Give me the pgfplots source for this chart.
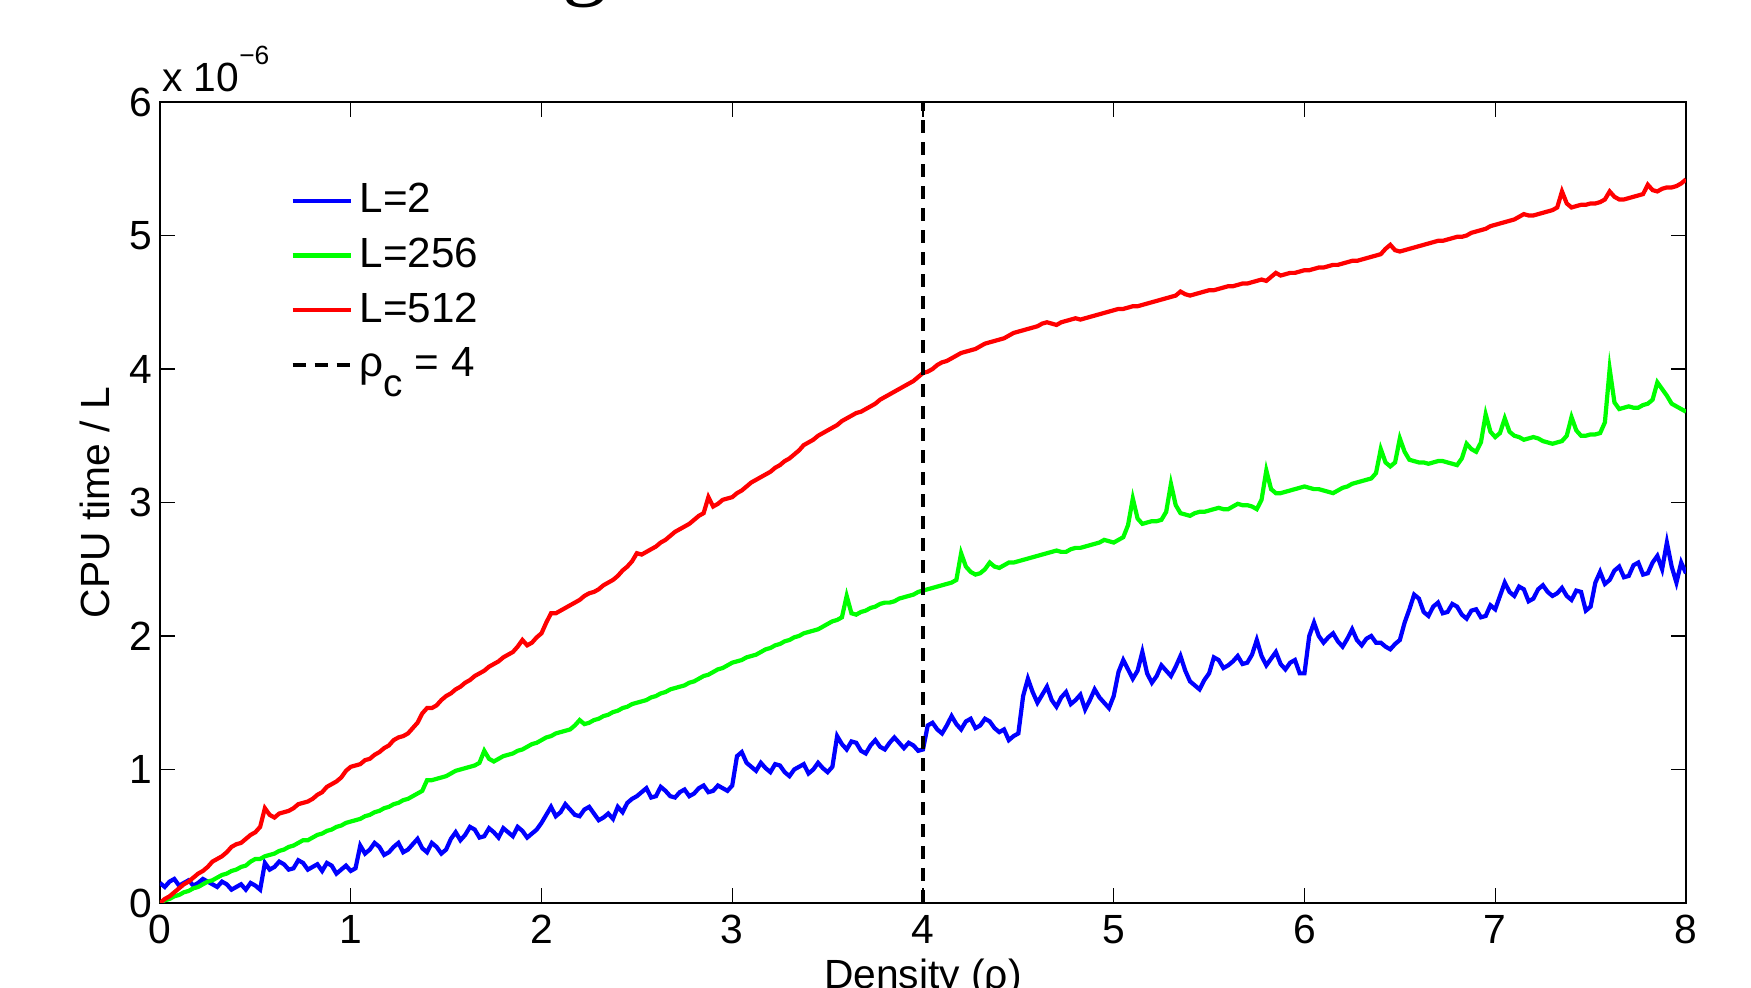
\documentclass[border=0pt]{standalone}
\usepackage{fontspec}
\setmainfont{Liberation Sans}
\newfontfamily\titleserif{Liberation Serif}
\usepackage{pgfplots}
\usepackage{pgfplotstable}
\pgfplotsset{compat=1.18}

% CPU time / L in units of 1e-6; b: L=2, g: L=256, r: L=512
\pgfplotstableread{
x     b    g    r
0.000 0.15 0.00 0.00
0.025 0.12 0.02 0.03
0.050 0.16 0.03 0.05
0.075 0.18 0.05 0.08
0.100 0.13 0.06 0.11
0.125 0.15 0.08 0.14
0.150 0.17 0.09 0.16
0.175 0.13 0.11 0.19
0.200 0.15 0.12 0.22
0.225 0.18 0.14 0.24
0.250 0.16 0.16 0.27
0.275 0.14 0.17 0.31
0.300 0.12 0.19 0.33
0.325 0.16 0.21 0.35
0.350 0.14 0.22 0.38
0.375 0.10 0.24 0.42
0.400 0.12 0.25 0.44
0.425 0.14 0.27 0.45
0.450 0.10 0.28 0.48
0.475 0.15 0.31 0.51
0.500 0.13 0.33 0.53
0.525 0.10 0.33 0.57
0.550 0.30 0.35 0.71
0.575 0.25 0.36 0.66
0.600 0.27 0.37 0.64
0.625 0.31 0.39 0.67
0.650 0.29 0.40 0.68
0.675 0.25 0.42 0.69
0.700 0.26 0.43 0.71
0.725 0.32 0.45 0.74
0.750 0.30 0.47 0.75
0.775 0.25 0.47 0.76
0.800 0.27 0.49 0.78
0.825 0.29 0.51 0.81
0.850 0.24 0.52 0.83
0.875 0.30 0.54 0.87
0.900 0.28 0.55 0.89
0.925 0.22 0.57 0.91
0.950 0.25 0.58 0.94
0.975 0.28 0.60 0.99
1.000 0.24 0.61 1.02
1.025 0.26 0.62 1.03
1.050 0.43 0.63 1.04
1.075 0.37 0.65 1.07
1.100 0.40 0.66 1.08
1.125 0.45 0.68 1.11
1.150 0.42 0.69 1.13
1.175 0.36 0.71 1.16
1.200 0.38 0.72 1.18
1.225 0.42 0.74 1.22
1.250 0.45 0.75 1.24
1.275 0.38 0.77 1.25
1.300 0.40 0.78 1.27
1.325 0.44 0.80 1.31
1.350 0.48 0.82 1.35
1.375 0.41 0.84 1.42
1.400 0.38 0.92 1.46
1.425 0.45 0.92 1.46
1.450 0.42 0.93 1.48
1.475 0.37 0.94 1.52
1.500 0.40 0.95 1.55
1.525 0.48 0.97 1.57
1.550 0.53 0.99 1.60
1.575 0.47 1.00 1.62
1.600 0.51 1.01 1.65
1.625 0.57 1.02 1.67
1.650 0.55 1.03 1.70
1.675 0.49 1.05 1.72
1.700 0.50 1.14 1.74
1.725 0.56 1.08 1.77
1.750 0.53 1.06 1.79
1.775 0.49 1.08 1.81
1.800 0.56 1.10 1.84
1.825 0.53 1.11 1.86
1.850 0.50 1.12 1.88
1.875 0.57 1.14 1.92
1.900 0.54 1.15 1.97
1.925 0.49 1.17 1.93
1.950 0.52 1.19 1.95
1.975 0.55 1.20 1.99
2.000 0.60 1.22 2.02
2.025 0.66 1.24 2.10
2.050 0.72 1.25 2.17
2.075 0.65 1.27 2.17
2.100 0.68 1.28 2.19
2.125 0.74 1.29 2.21
2.150 0.70 1.30 2.23
2.175 0.66 1.33 2.25
2.200 0.65 1.37 2.27
2.225 0.70 1.34 2.30
2.250 0.72 1.35 2.32
2.275 0.67 1.37 2.33
2.300 0.62 1.38 2.35
2.325 0.64 1.40 2.38
2.350 0.67 1.41 2.40
2.375 0.63 1.43 2.42
2.400 0.72 1.44 2.45
2.425 0.68 1.46 2.49
2.450 0.75 1.47 2.52
2.475 0.78 1.49 2.56
2.500 0.80 1.50 2.62
2.525 0.83 1.51 2.61
2.550 0.86 1.52 2.63
2.575 0.79 1.54 2.65
2.600 0.80 1.55 2.67
2.625 0.87 1.57 2.70
2.650 0.84 1.58 2.72
2.675 0.80 1.60 2.75
2.700 0.79 1.61 2.78
2.725 0.83 1.62 2.80
2.750 0.85 1.63 2.82
2.775 0.80 1.65 2.84
2.800 0.82 1.66 2.87
2.825 0.86 1.68 2.90
2.850 0.88 1.70 2.92
2.875 0.83 1.71 3.04
2.900 0.84 1.73 2.97
2.925 0.88 1.75 2.99
2.950 0.86 1.76 3.02
2.975 0.84 1.78 3.03
3.000 0.88 1.80 3.04
3.025 1.10 1.81 3.07
3.050 1.13 1.82 3.09
3.075 1.05 1.84 3.12
3.100 1.02 1.85 3.15
3.125 0.99 1.86 3.17
3.150 1.05 1.88 3.19
3.175 1.01 1.90 3.21
3.200 0.98 1.91 3.23
3.225 1.04 1.93 3.26
3.250 1.03 1.94 3.28
3.275 0.98 1.96 3.31
3.300 0.95 1.97 3.33
3.325 1.00 1.99 3.36
3.350 1.02 2.00 3.39
3.375 1.04 2.02 3.43
3.400 0.97 2.03 3.45
3.425 1.00 2.04 3.47
3.450 1.05 2.05 3.50
3.475 1.01 2.07 3.52
3.500 0.98 2.09 3.54
3.525 1.02 2.11 3.56
3.550 1.25 2.12 3.58
3.575 1.19 2.14 3.61
3.600 1.15 2.30 3.63
3.625 1.21 2.17 3.65
3.650 1.20 2.16 3.67
3.675 1.14 2.18 3.68
3.700 1.12 2.19 3.70
3.725 1.18 2.21 3.72
3.750 1.22 2.22 3.74
3.775 1.17 2.24 3.77
3.800 1.15 2.25 3.79
3.825 1.20 2.25 3.81
3.850 1.24 2.26 3.83
3.875 1.20 2.28 3.85
3.900 1.16 2.29 3.87
3.925 1.20 2.30 3.89
3.950 1.18 2.31 3.91
3.975 1.14 2.33 3.94
4.000 1.15 2.34 3.97
4.025 1.33 2.35 3.98
4.050 1.35 2.36 4.00
4.075 1.30 2.37 4.03
4.100 1.27 2.38 4.05
4.125 1.33 2.39 4.06
4.150 1.40 2.40 4.08
4.175 1.34 2.42 4.10
4.200 1.30 2.62 4.12
4.225 1.36 2.52 4.13
4.250 1.38 2.48 4.14
4.275 1.31 2.46 4.15
4.300 1.33 2.47 4.17
4.325 1.38 2.50 4.19
4.350 1.36 2.55 4.20
4.375 1.31 2.52 4.21
4.400 1.28 2.51 4.22
4.425 1.30 2.53 4.23
4.450 1.22 2.55 4.25
4.475 1.25 2.55 4.27
4.500 1.27 2.56 4.28
4.525 1.55 2.57 4.29
4.550 1.68 2.58 4.30
4.575 1.58 2.59 4.31
4.600 1.50 2.60 4.32
4.625 1.56 2.61 4.34
4.650 1.62 2.62 4.35
4.675 1.52 2.63 4.34
4.700 1.47 2.64 4.33
4.725 1.54 2.63 4.35
4.750 1.58 2.63 4.36
4.775 1.49 2.65 4.37
4.800 1.52 2.66 4.38
4.825 1.56 2.66 4.37
4.850 1.45 2.67 4.38
4.875 1.52 2.68 4.39
4.900 1.60 2.69 4.40
4.925 1.54 2.70 4.41
4.950 1.50 2.72 4.42
4.975 1.46 2.71 4.43
5.000 1.55 2.70 4.44
5.025 1.73 2.72 4.45
5.050 1.82 2.74 4.45
5.075 1.75 2.83 4.46
5.100 1.68 3.03 4.47
5.125 1.74 2.88 4.47
5.150 1.88 2.84 4.48
5.175 1.72 2.85 4.49
5.200 1.65 2.86 4.50
5.225 1.70 2.86 4.51
5.250 1.78 2.87 4.52
5.275 1.74 2.93 4.53
5.300 1.70 3.14 4.54
5.325 1.77 2.98 4.55
5.350 1.85 2.92 4.58
5.375 1.74 2.91 4.56
5.400 1.66 2.90 4.55
5.425 1.63 2.92 4.56
5.450 1.60 2.93 4.57
5.475 1.67 2.93 4.58
5.500 1.72 2.94 4.59
5.525 1.84 2.95 4.59
5.550 1.82 2.96 4.60
5.575 1.76 2.95 4.61
5.600 1.78 2.95 4.62
5.625 1.81 2.97 4.62
5.650 1.85 2.99 4.63
5.675 1.79 2.98 4.64
5.700 1.80 2.98 4.64
5.725 1.86 2.97 4.65
5.750 1.97 2.95 4.66
5.775 1.85 3.02 4.67
5.800 1.78 3.24 4.66
5.825 1.83 3.10 4.69
5.850 1.88 3.07 4.72
5.875 1.79 3.07 4.70
5.900 1.75 3.08 4.71
5.925 1.80 3.09 4.72
5.950 1.82 3.10 4.72
5.975 1.72 3.11 4.73
6.000 1.72 3.12 4.74
6.025 2.00 3.11 4.74
6.050 2.10 3.10 4.75
6.075 2.00 3.10 4.76
6.100 1.95 3.09 4.76
6.125 1.99 3.08 4.77
6.150 2.02 3.07 4.78
6.175 1.96 3.09 4.78
6.200 1.92 3.11 4.79
6.225 1.98 3.12 4.80
6.250 2.05 3.14 4.81
6.275 1.97 3.15 4.81
6.300 1.93 3.16 4.82
6.325 1.98 3.17 4.83
6.350 2.00 3.18 4.84
6.375 1.95 3.22 4.85
6.400 1.95 3.40 4.86
6.425 1.92 3.30 4.90
6.450 1.90 3.27 4.93
6.475 1.94 3.30 4.89
6.500 1.97 3.48 4.88
6.525 2.10 3.38 4.89
6.550 2.20 3.32 4.90
6.575 2.31 3.31 4.91
6.600 2.28 3.30 4.92
6.625 2.18 3.30 4.93
6.650 2.15 3.29 4.94
6.675 2.22 3.30 4.95
6.700 2.25 3.31 4.96
6.725 2.17 3.31 4.96
6.750 2.18 3.30 4.97
6.775 2.24 3.29 4.98
6.800 2.22 3.28 4.99
6.825 2.16 3.33 4.99
6.850 2.13 3.44 5.00
6.875 2.19 3.40 5.02
6.900 2.20 3.38 5.03
6.925 2.14 3.45 5.04
6.950 2.15 3.66 5.05
6.975 2.23 3.53 5.07
7.000 2.20 3.49 5.08
7.025 2.30 3.52 5.09
7.050 2.40 3.63 5.10
7.075 2.33 3.53 5.11
7.100 2.30 3.50 5.12
7.125 2.37 3.49 5.14
7.150 2.35 3.47 5.16
7.175 2.26 3.48 5.15
7.200 2.28 3.49 5.15
7.225 2.35 3.48 5.16
7.250 2.38 3.46 5.17
7.275 2.33 3.45 5.18
7.300 2.30 3.44 5.19
7.325 2.32 3.45 5.21
7.350 2.36 3.46 5.33
7.375 2.30 3.50 5.24
7.400 2.27 3.64 5.21
7.425 2.34 3.54 5.22
7.450 2.33 3.50 5.23
7.475 2.19 3.50 5.23
7.500 2.22 3.51 5.24
7.525 2.40 3.51 5.24
7.550 2.48 3.52 5.25
7.575 2.39 3.60 5.27
7.600 2.42 4.00 5.33
7.625 2.49 3.75 5.29
7.650 2.52 3.70 5.27
7.675 2.44 3.71 5.27
7.700 2.45 3.72 5.28
7.725 2.53 3.71 5.29
7.750 2.55 3.71 5.30
7.775 2.46 3.73 5.31
7.800 2.47 3.74 5.38
7.825 2.55 3.77 5.34
7.850 2.60 3.90 5.33
7.875 2.50 3.85 5.35
7.900 2.70 3.80 5.36
7.925 2.52 3.74 5.36
7.950 2.40 3.72 5.37
7.975 2.55 3.70 5.39
8.000 2.47 3.68 5.42
}\cputime

\begin{document}
\begin{tikzpicture}
\begin{axis}[
  at={(0,0)}, anchor=south west,
  scale only axis, width=152.6mm, height=80.1mm,
  xmin=0, xmax=8, ymin=0, ymax=6,
  xtick={0,1,...,8}, ytick={0,1,...,6},
  tick align=inside, major tick length=1.5mm,
  clip mode=individual,
  axis line style={line width=0.6pt},
  every tick/.style={black, line width=0.4pt},
  /pgf/number format/assume math mode=true,
  tick label style={font=\fontsize{11.6}{13.9}\selectfont},
  yticklabel style={xshift=0.5mm},
  label style={font=\fontsize{11.6}{13.9}\selectfont},
  xlabel={Density (ρ)},
  xlabel style={at={(axis description cs:0.5,0)}, anchor=base, yshift=-8.6mm},
  ylabel={CPU time / L},
  ylabel style={at={(axis description cs:-0.0426,0.5)}, anchor=center},
  legend style={draw=none, fill=none, at={(axis description cs:0.085,0.908)},
    anchor=north west, font=\fontsize{12}{14.4}\selectfont, row sep=0.6mm, inner sep=0pt},
  legend cell align=left,
  legend image code/.code={\draw[#1] (0mm,0mm) -- (5.8mm,0mm);},
]
\addplot[blue, line width=1.2pt] table[x=x, y=b] {\cputime};
\addplot[green, line width=1.2pt] table[x=x, y=g] {\cputime};
\addplot[red, line width=1.2pt] table[x=x, y=r] {\cputime};
\addplot[black, line width=1.1pt, dash pattern=on 1.3mm off 0.9mm] coordinates {(4,0) (4,6)};
\legend{L=2, L=256, L=512, {ρ\raisebox{-2.0mm}{\fontsize{11}{13}\selectfont c} = 4}}
\node[anchor=base west, inner sep=0pt, xshift=0.15mm, yshift=1.0mm,
  font=\fontsize{11.6}{13.9}\selectfont] at (rel axis cs:0,1)
  {x 10\raisebox{2.7mm}{\fontsize{7.5}{9}\selectfont −6}};
\end{axis}
% bottom of the cut-off title above the plot
\node[anchor=base, inner sep=0pt, font=\titleserif\fontsize{25.6}{30}\selectfont] at (42.5mm,91.46mm) {g};
\pgfresetboundingbox
\path[use as bounding box] (-16.0mm,-8.5mm) rectangle (159.1mm,90.3mm);
\end{tikzpicture}
\end{document}
